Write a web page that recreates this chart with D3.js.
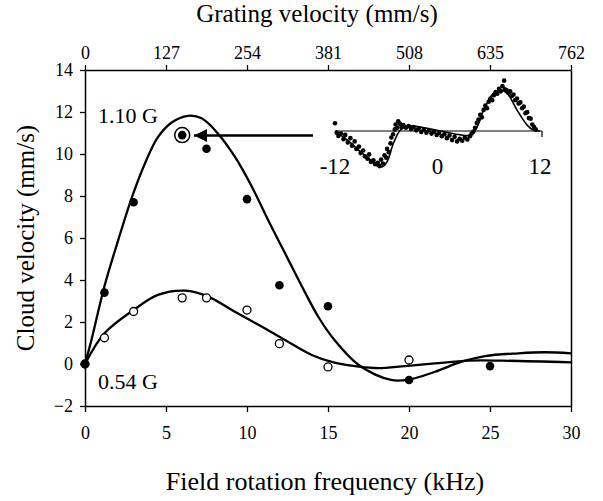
<!DOCTYPE html>
<html>
<head>
<meta charset="utf-8">
<script src="https://cdn.jsdelivr.net/npm/d3@7"></script>
<style>
  body { margin: 0; background: #fff; }
  svg text { font-family: "Liberation Serif", "Times New Roman", serif; fill: #000; }
</style>
</head>
<body>
<script>
// measured points, field rotation frequency (kHz) vs cloud velocity (mm/s)
const freq = [0, 1.2, 3, 6, 7.5, 10, 12, 15, 20, 25];
const velHigh = [0, 3.4, 7.7, 10.9, 10.25, 7.85, 3.75, 2.75, -0.76, -0.1];   // 1.10 G, filled
const freqLow = [0, 1.2, 3, 6, 7.5, 10, 12, 15, 20];
const velLow = [0, 1.25, 2.5, 3.15, 3.15, 2.57, 0.97, -0.14, 0.19];            // 0.54 G, open

// fit curves
const fitHighX = [0, 0.4, 1.2, 2.05, 2.9, 3.7, 4.5, 5.35, 6.35, 7.2, 8.2, 9.25, 10.3, 11.3, 12.35, 13.4, 14.4, 15.4, 16.9, 18.9, 20, 21.6, 23.25, 24.7, 26.75, 28.4, 30];
const fitHighY = [0, 1.15, 3.7, 5.9, 7.95, 9.55, 10.8, 11.5, 11.82, 11.7, 10.98, 9.87, 8.44, 6.86, 5.27, 3.68, 2.25, 1.14, -0.05, -0.76, -0.74, -0.37, 0.11, 0.38, 0.51, 0.56, 0.51];
const fitLowX = [0, 1.2, 3, 4.5, 6.2, 7.6, 9.25, 10.9, 12.35, 14, 15.4, 16.9, 18.1, 19.75, 21.6, 23.7, 25.7, 30];
const fitLowY = [0, 1.46, 2.57, 3.29, 3.49, 3.21, 2.49, 1.78, 1.14, 0.43, 0.06, -0.13, -0.2, -0.1, 0.03, 0.16, 0.16, 0.08];

const xTicks = [0, 5, 10, 15, 20, 25, 30];
const yTicks = [-2, 0, 2, 4, 6, 8, 10, 12, 14];
const topTicks = [0, 127, 254, 381, 508, 635, 762];

// inset: velocity profile (arbitrary units), fit and data
const insetFitX = [-12, -10.55, -9, -7.85, -7.05, -6.45, -5.9, -5.15, -4.35, -3.55, -2.8, -1.2, 0.7, 2.7, 3.85, 4.65, 5.4, 6.55, 7.35, 8.15, 9.3, 10.5, 11.2, 12];
const insetFitY = [-0.2, -2.8, -6.4, -8.9, -10.8, -11, -9.4, -3.7, 0.3, 1.5, 1.5, 0.8, -0.2, -1.2, -1.2, 1.3, 6.5, 11.6, 12.6, 11.6, 6.5, 1.8, 0.3, 0];
const insetDotX = [-12, -11.8, -11.6, -11.3, -11, -10.8, -10.5, -10.2, -10, -9.7, -9.5, -9.2, -9, -8.7, -8.5, -8.2, -8, -7.8, -7.5, -7.3, -7, -6.8, -6.6, -6.4, -6.2, -6, -5.9, -5.7, -5.5, -5.4, -5.2, -5, -4.9, -4.7, -4.6, -4.4, -4.2, -4, -3.7, -3.4, -3.1, -2.8, -2.5, -2.2, -1.9, -1.6, -1.3, -1, -0.7, -0.4, -0.1, 0.2, 0.5, 0.8, 1.1, 1.4, 1.7, 2, 2.3, 2.6, 2.9, 3.2, 3.5, 3.8, 4, 4.2, 4.4, 4.6, 4.8, 5, 5.2, 5.4, 5.6, 5.8, 6, 6.2, 6.4, 6.6, 6.8, 7, 7.2, 7.4, 7.6, 7.8, 7.9, 8.1, 8.3, 8.5, 8.7, 8.9, 9.1, 9.3, 9.5, 9.7, 9.9, 10.1, 10.3, 10.5, 10.7, 10.9, 11.1, 11.3, 11.5];
const insetDotY = [2.4, -0.5, -1.5, -0.8, -2.5, -1.2, -3.5, -2.2, -4.5, -3.2, -5.5, -4.8, -6.8, -6, -7.8, -8.5, -7.2, -9.5, -9, -10.2, -9.8, -10.8, -8.8, -10, -7.5, -8.2, -5.5, -6.5, -3.8, -2, -1, 0.5, 2, 1, 3, 2.2, 1.2, 1.8, 1, 1.5, 0.6, 1.2, 0.2, 0.8, -0.3, 0.5, -0.5, 0.2, -0.8, -0.2, -1.2, -0.6, -1.6, -1, -2.2, -1.4, -2.8, -1.8, -3.2, -2.4, -3, -2, -2.6, -1.6, -0.8, -0.2, 1, 2.5, 3.5, 5, 4.2, 6.5, 7.8, 7, 9, 10, 9.5, 11, 12, 11.5, 13, 12.2, 13.8, 15.5, 12.8, 12.5, 11.8, 12.2, 10.8, 11.2, 9.5, 10, 8.5, 8.8, 7, 7.5, 5.5, 5.8, 4, 3.8, 2, 1.2, 0.5];
const insetTicks = [-12, 0, 12];

const serif = '"Liberation Serif", "Times New Roman", serif';

const svg = d3.select("body")
    .append("svg")
    .attr("width", 603)
    .attr("height", 501);

const x = d3.scaleLinear().domain([0, 30]).range([85, 571]);
const y = d3.scaleLinear().domain([-2, 14]).range([406, 70]);
const xTop = d3.scaleLinear().domain([0, 762]).range([85, 571]);

// axes
const axB = svg.append("g")
    .attr("transform", `translate(0,${y(-2)})`)
    .call(d3.axisBottom(x).tickValues(xTicks).tickSize(6).tickSizeOuter(0).tickPadding(14));
const axT = svg.append("g")
    .attr("transform", `translate(0,${y(14)})`)
    .call(d3.axisTop(xTop).tickValues(topTicks).tickSize(5).tickSizeOuter(0).tickPadding(6));
const axL = svg.append("g")
    .attr("transform", `translate(${x(0)},0)`)
    .call(d3.axisLeft(y).tickValues(yTicks).tickSize(5).tickSizeOuter(0).tickPadding(7));
const axR = svg.append("g")
    .attr("transform", `translate(${x(30)},0)`)
    .call(d3.axisRight(y).tickValues([]).tickSizeOuter(0));

[axB, axT, axL, axR].forEach(g => {
    g.attr("font-family", serif);
    g.select(".domain").attr("stroke", "#000").attr("stroke-width", 1.5);
    g.selectAll(".tick line").attr("stroke", "#000").attr("stroke-width", 1.3);
    g.selectAll(".tick text").style("font-size", "18px").style("font-family", serif);
});

// axis titles
svg.append("text")
    .attr("x", 317).attr("y", 22)
    .attr("text-anchor", "middle")
    .style("font-size", "25px")
    .text("Grating velocity (mm/s)");
svg.append("text")
    .attr("x", 325).attr("y", 490)
    .attr("text-anchor", "middle")
    .style("font-size", "26px")
    .text("Field rotation frequency (kHz)");
svg.append("text")
    .attr("transform", "translate(34,238) rotate(-90)")
    .attr("text-anchor", "middle")
    .style("font-size", "25px")
    .text("Cloud velocity (mm/s)");

// fit curves
const line = d3.line()
    .x(d => x(d[0]))
    .y(d => y(d[1]))
    .curve(d3.curveCatmullRom.alpha(0.5));

svg.append("path")
    .datum(d3.zip(fitHighX, fitHighY))
    .attr("fill", "none").attr("stroke", "#000").attr("stroke-width", 2.3)
    .attr("d", line);
svg.append("path")
    .datum(d3.zip(fitLowX, fitLowY))
    .attr("fill", "none").attr("stroke", "#000").attr("stroke-width", 2.3)
    .attr("d", line);

// data points
svg.selectAll(".low")
    .data(d3.zip(freqLow, velLow))
    .join("circle")
    .attr("class", "low")
    .attr("cx", d => x(d[0])).attr("cy", d => y(d[1]))
    .attr("r", 4)
    .attr("fill", "#fff").attr("stroke", "#000").attr("stroke-width", 1.3);
svg.selectAll(".high")
    .data(d3.zip(freq, velHigh))
    .join("circle")
    .attr("class", "high")
    .attr("cx", d => x(d[0])).attr("cy", d => y(d[1]))
    .attr("r", 4.3)
    .attr("fill", "#000");

// ring around the point shown in the inset
svg.append("circle")
    .attr("cx", x(freq[3])).attr("cy", y(velHigh[3]))
    .attr("r", 7.5)
    .attr("fill", "none").attr("stroke", "#000").attr("stroke-width", 1.5);

// field labels
svg.append("text").attr("x", 98).attr("y", 123).style("font-size", "22px").text("1.10 G");
svg.append("text").attr("x", 98).attr("y", 389).style("font-size", "22px").text("0.54 G");

// arrow from inset to point
svg.append("defs").append("marker")
    .attr("id", "head")
    .attr("viewBox", "0 0 10 10")
    .attr("refX", 10).attr("refY", 5)
    .attr("markerWidth", 7).attr("markerHeight", 5)
    .attr("markerUnits", "strokeWidth")
    .attr("orient", "auto")
    .append("path").attr("d", "M0,0 L10,5 L0,10 Z").attr("fill", "#000");
svg.append("line")
    .attr("x1", 313).attr("y1", 135.5)
    .attr("x2", 194).attr("y2", 135.5)
    .attr("stroke", "#000").attr("stroke-width", 2.6)
    .attr("marker-end", "url(#head)");

// inset
const xi = d3.scaleLinear().domain([-12, 12]).range([335, 540]);
const yi = d3.scaleLinear().domain([-12, 12]).range([170, 92]);
const inset = svg.append("g");

inset.append("line")
    .attr("x1", xi(-12)).attr("x2", xi(12) + 2)
    .attr("y1", yi(0)).attr("y2", yi(0))
    .attr("stroke", "#000").attr("stroke-width", 1.2);
inset.append("line")
    .attr("x1", xi(12) + 2).attr("x2", xi(12) + 2)
    .attr("y1", yi(0)).attr("y2", yi(0) + 6)
    .attr("stroke", "#000").attr("stroke-width", 1.2);

inset.selectAll(".idot")
    .data(d3.zip(insetDotX, insetDotY))
    .join("circle")
    .attr("class", "idot")
    .attr("cx", d => xi(d[0])).attr("cy", d => yi(d[1]))
    .attr("r", 2.3)
    .attr("fill", "#000");

inset.append("path")
    .datum(d3.zip(insetFitX, insetFitY))
    .attr("fill", "none").attr("stroke", "#000").attr("stroke-width", 1.6)
    .attr("d", d3.line().x(d => xi(d[0])).y(d => yi(d[1])).curve(d3.curveCatmullRom.alpha(0.5)));

inset.selectAll(".itick")
    .data(insetTicks)
    .join("text")
    .attr("class", "itick")
    .attr("x", d => xi(d)).attr("y", 174)
    .attr("text-anchor", "middle")
    .style("font-size", "23px")
    .text(d => d);
</script>
</body>
</html>
